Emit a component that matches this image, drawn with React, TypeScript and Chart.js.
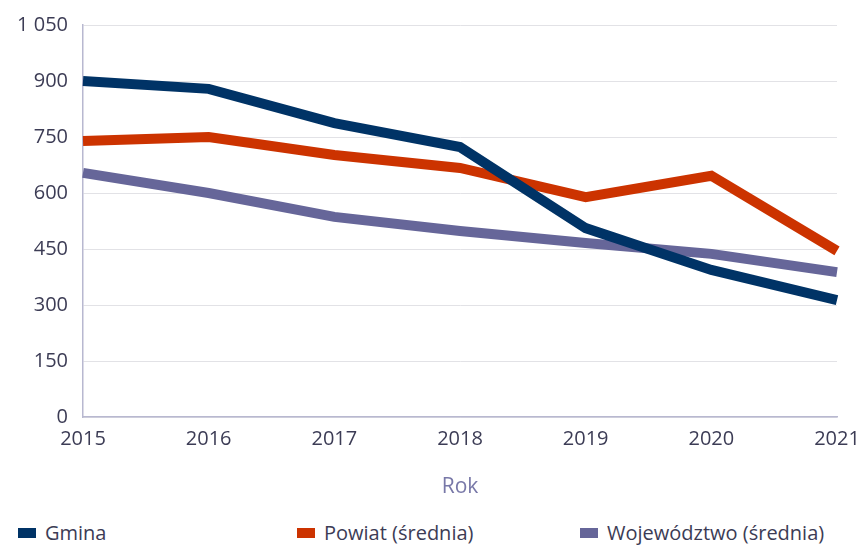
import React, { useEffect, useRef } from "react";
import { Chart, registerables } from "chart.js";

Chart.register(...registerables);

const years = ["2015", "2016", "2017", "2018", "2019", "2020", "2021"];
const gmina = [900, 879, 787, 723, 506, 394, 313];
const powiat = [739, 750, 702, 667, 589, 646, 445];
const wojewodztwo = [654, 600, 536, 498, 466, 437, 388];
const seriesNames = ["Gmina", "Powiat (średnia)", "Województwo (średnia)"];
const seriesColors = ["#003366", "#cc3300", "#666699"];

const FONT = "'Open Sans', 'DejaVu Sans', sans-serif";

export default function App() {
  const ref = useRef<HTMLCanvasElement | null>(null);

  useEffect(() => {
    if (!ref.current) return;
    const data = [gmina, powiat, wojewodztwo];
    const chart = new Chart(ref.current, {
      type: "line",
      data: {
        labels: years,
        datasets: data.map((d, i) => ({
          label: seriesNames[i],
          data: d,
          borderColor: seriesColors[i],
          backgroundColor: seriesColors[i],
          borderWidth: 10,
          pointRadius: 0,
          tension: 0,
          fill: false,
          borderJoinStyle: "miter" as const,
          borderCapStyle: "butt" as const,
        })),
      },
      options: {
        animation: false,
        responsive: false,
        maintainAspectRatio: false,
        layout: { padding: { top: 25, right: 25, left: 0, bottom: 0 } },
        plugins: {
          legend: { display: false },
          tooltip: { enabled: false },
        },
        scales: {
          x: {
            offset: false,
            grid: { display: false, drawTicks: false },
            border: { display: true, color: "#b8b8d0", width: 1.5 },
            ticks: {
              color: "#3c3c55",
              font: { family: FONT, size: 20 },
              padding: 10,
              maxRotation: 0,
            },
            title: {
              display: true,
              text: "Rok",
              color: "#7878a8",
              font: { family: FONT, size: 21 },
              padding: { top: 0, bottom: 5 },
            },
            afterFit: (scale: any) => {
              scale.height = 505 - 417;
              scale.paddingRight = 0;
              scale.paddingLeft = 0;
            },
          },
          y: {
            min: 0,
            max: 1050,
            grid: { color: "#e2e2e6", lineWidth: 1, drawTicks: false },
            border: { display: true, color: "#b8b8d0", width: 1.5 },
            ticks: {
              stepSize: 150,
              color: "#3c3c55",
              font: { family: FONT, size: 20 },
              padding: 15,
              callback: (v: any) => {
                const n = Number(v);
                return n >= 1000
                  ? Math.floor(n / 1000) + " " + String(n % 1000).padStart(3, "0")
                  : String(n);
              },
            },
            afterFit: (scale: any) => {
              scale.width = 83;
              scale.paddingTop = 0;
              scale.paddingBottom = 0;
            },
          },
        },
      },
    });
    return () => chart.destroy();
  }, []);

  return (
    <div
      style={{
        position: "fixed",
        left: 0,
        top: 0,
        width: 862,
        height: 546,
        background: "#ffffff",
        fontFamily: FONT,
      }}
    >
      <canvas ref={ref} width={862} height={505} style={{ display: "block" }} />
      <div
        style={{
          position: "absolute",
          left: 18,
          top: 521,
          width: 843,
          display: "grid",
          gridTemplateColumns: "279px 283px 281px",
          fontSize: 20,
          color: "#3c3c55",
          lineHeight: "24px",
        }}
      >
        {seriesNames.map((n, i) => (
          <div key={n} style={{ display: "flex", alignItems: "center", whiteSpace: "nowrap" }}>
            <span
              style={{
                display: "inline-block",
                width: 18,
                height: 10,
                background: seriesColors[i],
                marginRight: 9,
              }}
            />
            <span>{n}</span>
          </div>
        ))}
      </div>
    </div>
  );
}
